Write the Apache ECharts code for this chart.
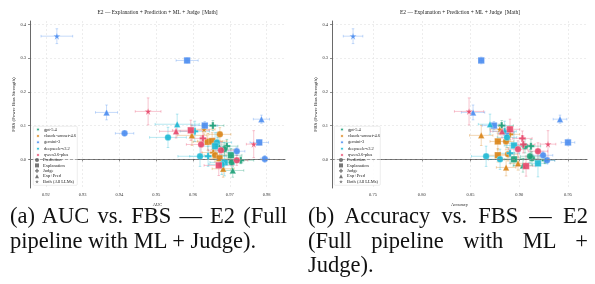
<!DOCTYPE html>
<html>
<head>
<meta charset="utf-8">
<title>E2 — AUC / Accuracy vs. FBS</title>
<script src="https://cdn.jsdelivr.net/npm/echarts@6/dist/echarts.min.js"></script>
<style>
  body { margin: 0; background: #fff; }
  #chart { position: absolute; left: 0; top: 0; width: 595px; height: 284px; }
  .cap { position: absolute; font-family: "Liberation Serif", serif; font-size: 22.5px;
         line-height: 24.5px; color: #111; text-align: justify; }
</style>
</head>
<body>
<div id="chart"></div>
<div class="cap" style="left:10px; top:204px; width:277px;">(a) AUC vs. FBS — E2 (Full pipeline with ML + Judge).</div>
<div class="cap" style="left:308px; top:204px; width:280px;">(b) Accuracy vs. FBS — E2 (Full pipeline with ML + Judge).</div>
<script>
var MODELS = ['gpt-5.4', 'claude-sonnet-4.6', 'gemini-3', 'deepseek-v3.2', 'qwen3.6-plus'];
var MARKERS = ['Prediction', 'Explanation', 'Judge', 'Exp+Pred', 'Both (All LLMs)'];
var Y_TICKS = [0, 0.1, 0.2, 0.3, 0.4];
var AUC_TICKS = [0.92, 0.93, 0.94, 0.95, 0.96, 0.97, 0.98];
var ACC_TICKS = [0.75, 0.80, 0.85, 0.90, 0.95];

// rows: [x, fbs, xErr, fbsErr, marker index]
var gptAuc = [
  [0.9654, 0.100, 0.0030, 0.015, 2], [0.9692, 0.039, 0.0030, 0.020, 2],
  [0.9685, 0.030, 0.0030, 0.020, 0], [0.9703, 0.012, 0.0030, 0.020, 1],
  [0.9705, -0.009, 0.0030, 0.020, 0], [0.9730, -0.003, 0.0035, 0.010, 2],
  [0.9708, -0.033, 0.0030, 0.020, 3], [0.9668, 0.045, 0.0025, 0.020, 3]
];
var claudeAuc = [
  [0.9630, 0.089, 0.0030, 0.015, 4], [0.9597, 0.071, 0.0040, 0.030, 3],
  [0.9673, 0.074, 0.0030, 0.020, 0], [0.9640, 0.052, 0.0040, 0.025, 1],
  [0.9652, 0.054, 0.0040, 0.025, 1], [0.9655, 0.020, 0.0030, 0.020, 2],
  [0.9660, 0.012, 0.0030, 0.020, 0], [0.9672, 0.003, 0.0030, 0.020, 1],
  [0.9682, -0.028, 0.0030, 0.025, 3]
];
var geminiAuc = [
  [0.9230, 0.365, 0.0043, 0.022, 4], [0.9584, 0.293, 0.0030, 0.008, 1],
  [0.9365, 0.139, 0.0030, 0.022, 3], [0.9414, 0.077, 0.0025, 0.008, 0],
  [0.9786, 0.119, 0.0022, 0.012, 3], [0.9780, 0.050, 0.0025, 0.008, 1],
  [0.9795, 0.001, 0.0012, 0.010, 0], [0.9632, 0.100, 0.0035, 0.012, 1],
  [0.9719, 0.024, 0.0022, 0.012, 0]
];
var deepseekAuc = [
  [0.9557, 0.104, 0.0060, 0.030, 3], [0.9532, 0.065, 0.0050, 0.030, 0],
  [0.9605, 0.083, 0.0040, 0.030, 2], [0.9665, 0.050, 0.0040, 0.030, 0],
  [0.9660, 0.039, 0.0040, 0.040, 1], [0.9619, 0.009, 0.0060, 0.030, 0],
  [0.9641, 0.009, 0.0050, 0.030, 2], [0.9686, -0.009, 0.0040, 0.040, 1],
  [0.9678, -0.015, 0.0035, 0.030, 0]
];
var qwenAuc = [
  [0.9478, 0.142, 0.0035, 0.040, 4], [0.9765, 0.045, 0.0020, 0.040, 4],
  [0.9554, 0.083, 0.0045, 0.020, 3], [0.9594, 0.086, 0.0050, 0.030, 1],
  [0.9627, 0.062, 0.0030, 0.022, 2], [0.9622, 0.044, 0.0040, 0.025, 0],
  [0.9676, 0.027, 0.0035, 0.025, 0], [0.9670, -0.018, 0.0040, 0.030, 1],
  [0.9719, -0.003, 0.0030, 0.015, 0]
];

var gptAcc = [
  [0.8820, 0.100, 0.0120, 0.015, 2], [0.9120, 0.039, 0.0100, 0.020, 2],
  [0.9059, 0.039, 0.0080, 0.020, 0], [0.8946, 0.000, 0.0100, 0.020, 1],
  [0.9130, 0.003, 0.0120, 0.020, 0], [0.9110, 0.009, 0.0100, 0.020, 0],
  [0.9264, -0.003, 0.0100, 0.010, 2], [0.9038, -0.018, 0.0100, 0.020, 3]
];
var claudeAcc = [
  [0.8800, 0.089, 0.0100, 0.015, 4], [0.8610, 0.071, 0.0120, 0.030, 3],
  [0.8905, 0.074, 0.0100, 0.020, 2], [0.8780, 0.053, 0.0080, 0.025, 1],
  [0.8864, 0.053, 0.0080, 0.025, 0], [0.8780, 0.012, 0.0100, 0.020, 1],
  [0.8885, 0.015, 0.0100, 0.020, 0], [0.8987, -0.012, 0.0080, 0.020, 3],
  [0.8865, -0.024, 0.0100, 0.025, 3]
];
var geminiAcc = [
  [0.7295, 0.365, 0.0100, 0.022, 4], [0.8610, 0.293, 0.0020, 0.010, 1],
  [0.8526, 0.139, 0.0120, 0.022, 3], [0.8864, 0.077, 0.0080, 0.010, 0],
  [0.9418, 0.119, 0.0070, 0.012, 3], [0.9500, 0.050, 0.0070, 0.010, 1],
  [0.8740, 0.100, 0.0120, 0.012, 1], [0.9244, 0.012, 0.0100, 0.012, 0],
  [0.9285, -0.003, 0.0080, 0.010, 0]
];
var deepseekAcc = [
  [0.8700, 0.104, 0.0120, 0.030, 3], [0.8850, 0.083, 0.0120, 0.030, 2],
  [0.8874, 0.065, 0.0100, 0.030, 0], [0.8946, 0.041, 0.0100, 0.040, 1],
  [0.8905, 0.018, 0.0100, 0.030, 2], [0.8660, 0.009, 0.0150, 0.030, 0],
  [0.8803, 0.000, 0.0120, 0.030, 0], [0.9192, -0.012, 0.0100, 0.040, 1]
];
var qwenAcc = [
  [0.8485, 0.142, 0.0150, 0.040, 4], [0.9295, 0.045, 0.0080, 0.040, 4],
  [0.8823, 0.083, 0.0120, 0.020, 3], [0.8905, 0.089, 0.0100, 0.030, 1],
  [0.9032, 0.062, 0.0100, 0.022, 2], [0.9042, 0.044, 0.0120, 0.025, 2],
  [0.8987, 0.030, 0.0100, 0.025, 0], [0.9192, 0.024, 0.0100, 0.025, 0],
  [0.9070, -0.020, 0.0100, 0.030, 1]
];

var COLORS = ['#1b9e77', '#d98416', '#4a8cf0', '#1cb8d4', '#e8476a'];
var PLUS = 'path://M-1,-3H1V-1H3V1H1V3H-1V1H-3V-1H-1Z';
var STAR = 'path://M0,-100L22,-31L95,-31L36,12L59,81L0,38L-59,81L-36,12L-95,-31L-22,-31Z';
var SYMBOLS = ['circle', 'rect', PLUS, 'triangle', STAR];
var SIZES = [6.5, 6.5, 7, 6.5, 7];
var FONT = 'Liberation Serif';

var aucSets = [gptAuc, claudeAuc, geminiAuc, deepseekAuc, qwenAuc];
var accSets = [gptAcc, claudeAcc, geminiAcc, deepseekAcc, qwenAcc];

function errBars(color) {
  return function (params, api) {
    var x = api.value(0), y = api.value(1), ex = api.value(2), ey = api.value(3);
    var l = api.coord([x - ex, y]), r = api.coord([x + ex, y]);
    var t = api.coord([x, y + ey]), b = api.coord([x, y - ey]);
    var c = 1.3;
    var st = { stroke: color, lineWidth: 0.7, opacity: 0.45 };
    function seg(x1, y1, x2, y2) {
      return { type: 'line', shape: { x1: x1, y1: y1, x2: x2, y2: y2 }, style: st };
    }
    return { type: 'group', children: [
      seg(l[0], l[1], r[0], r[1]), seg(l[0], l[1] - c, l[0], l[1] + c), seg(r[0], r[1] - c, r[0], r[1] + c),
      seg(t[0], t[1], b[0], b[1]), seg(t[0] - c, t[1], t[0] + c, t[1]), seg(b[0] - c, b[1], b[0] + c, b[1])
    ] };
  };
}

var series = [];
function addPanel(sets, gi) {
  sets.forEach(function (rows, k) {
    series.push({
      name: MODELS[k] + ' err', type: 'custom', xAxisIndex: gi, yAxisIndex: gi,
      renderItem: errBars(COLORS[k]), encode: { x: 0, y: 1 }, data: rows,
      clip: true, silent: true, z: 2
    });
  });
  sets.forEach(function (rows, k) {
    var s = {
      name: MODELS[k], type: 'scatter', xAxisIndex: gi, yAxisIndex: gi,
      data: rows.map(function (r) { return [r[0], r[1], r[4]]; }),
      symbol: function (v) { return SYMBOLS[v[2]]; },
      symbolSize: function (v) { return SIZES[v[2]]; },
      itemStyle: { color: COLORS[k], opacity: 0.9, borderColor: '#fff', borderWidth: 0.3 },
      z: 3
    };
    if (k === 0) {
      s.markLine = {
        silent: true, symbol: 'none', label: { show: false },
        lineStyle: { color: '#888', type: [3, 2], width: 0.7 },
        data: [{ yAxis: 0 }]
      };
    }
    series.push(s);
  });
}
addPanel(aucSets, 0);
addPanel(accSets, 1);
// legend-only entries for marker shapes
MARKERS.forEach(function (m, i) {
  series.push({ name: m, type: 'scatter', data: [], symbol: SYMBOLS[i], itemStyle: { color: '#555' } });
});

function yAxis(gi) {
  return {
    type: 'value', gridIndex: gi, min: -0.085, max: 0.41,
    name: 'FBS (Fewer Bias Strength)', nameLocation: 'middle', nameGap: 13,
    nameTextStyle: { fontFamily: FONT, fontSize: 5, color: '#222' },
    axisLine: { show: true, lineStyle: { color: '#444', width: 0.8 } },
    axisTick: { show: true, length: 2, customValues: Y_TICKS, lineStyle: { color: '#444', width: 0.6 } },
    axisLabel: { customValues: Y_TICKS, fontFamily: FONT, fontSize: 4.5, color: '#333', margin: 4,
                 formatter: function (v) { return v.toFixed(1); } },
    splitLine: { show: true, lineStyle: { color: '#e2e2e2', type: [2, 2], width: 0.6 } }
  };
}
function xAxis(gi, name, min, max, ticks) {
  return {
    type: 'value', gridIndex: gi, min: min, max: max,
    name: name, nameLocation: 'middle', nameGap: 13,
    nameTextStyle: { fontFamily: FONT, fontSize: 4.5, color: '#222' },
    axisLine: { show: true, lineStyle: { color: '#444', width: 0.8 } },
    axisTick: { show: true, length: 2, customValues: ticks, lineStyle: { color: '#444', width: 0.6 } },
    axisLabel: { customValues: ticks, fontFamily: FONT, fontSize: 4.5, color: '#333', margin: 4,
                 formatter: function (v) { return v.toFixed(2); } },
    splitLine: { show: true, lineStyle: { color: '#e2e2e2', type: [2, 2], width: 0.6 } }
  };
}
function legends(left) {
  var base = {
    orient: 'vertical', left: left, padding: 0, itemWidth: 4, itemHeight: 4, itemGap: 0.4,
    selectedMode: false, z: 6,
    textStyle: { fontFamily: FONT, fontSize: 4.5, lineHeight: 5, color: '#222', padding: [0, 0, 0, -1] }
  };
  return [
    Object.assign({}, base, { top: 126.5,
      data: MODELS.map(function (m) { return { name: m, icon: 'circle' }; }) }),
    Object.assign({}, base, { top: 157.5,
      data: MARKERS.map(function (m, i) { return { name: m, icon: SYMBOLS[i] }; }) })
  ];
}
var TITLE = 'E2 — Explanation + Prediction + ML + Judge  [Math]';

var chart = echarts.init(document.getElementById('chart'), null, { renderer: 'canvas' });
chart.setOption({
  animation: false,
  backgroundColor: '#fff',
  title: [
    { text: TITLE, left: 157.5, top: 10, textAlign: 'center', padding: 0,
      textStyle: { fontFamily: FONT, fontSize: 5.5, fontWeight: 'normal', color: '#222' } },
    { text: TITLE, left: 460, top: 10, textAlign: 'center', padding: 0,
      textStyle: { fontFamily: FONT, fontSize: 5.5, fontWeight: 'normal', color: '#222' } }
  ],
  grid: [
    { left: 30, top: 21, width: 255, height: 167 },
    { left: 332, top: 21, width: 255, height: 167 }
  ],
  xAxis: [
    xAxis(0, 'AUC', 0.9157, 0.985, AUC_TICKS),
    xAxis(1, 'Accuracy', 0.7079, 0.9695, ACC_TICKS)
  ],
  yAxis: [yAxis(0), yAxis(1)],
  legend: legends(35).concat(legends(339)),
  graphic: [
    { type: 'rect', left: 33, top: 126, z: 5, shape: { width: 44, height: 59, r: 1 },
      style: { fill: 'rgba(255,255,255,0.85)', stroke: '#d8d8d8', lineWidth: 0.5 } },
    { type: 'rect', left: 334, top: 126, z: 5, shape: { width: 46, height: 59, r: 1 },
      style: { fill: 'rgba(255,255,255,0.85)', stroke: '#d8d8d8', lineWidth: 0.5 } }
  ],
  series: series
});
</script>
</body>
</html>
